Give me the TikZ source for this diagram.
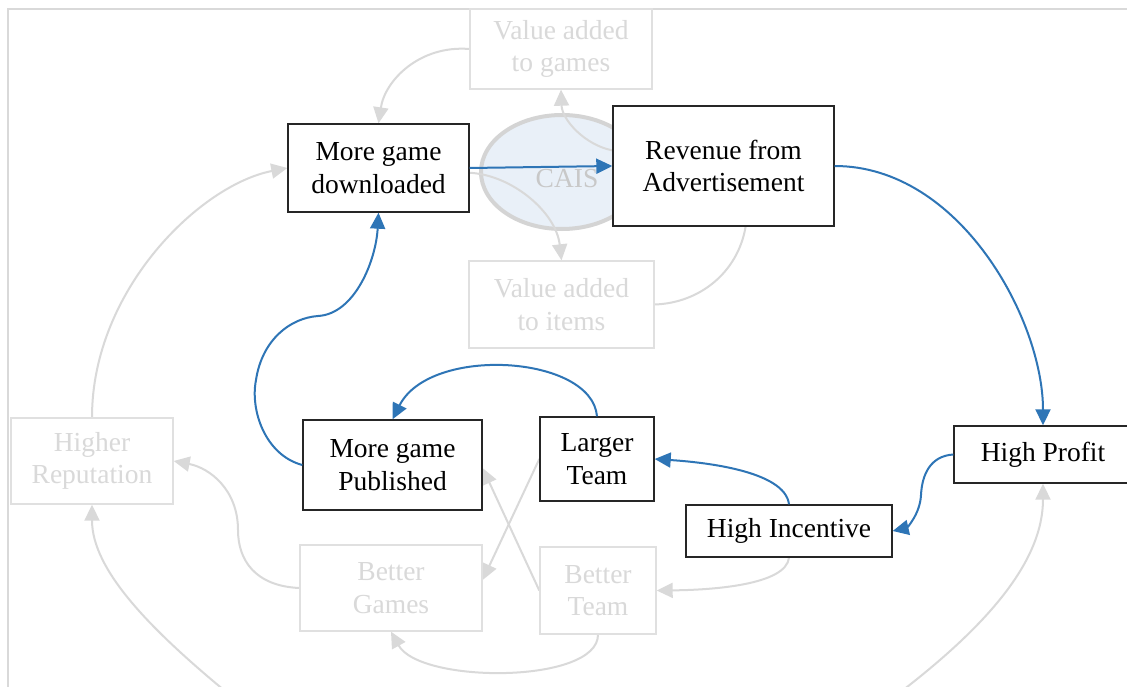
\documentclass[tikz,border=0pt]{standalone}
\usepackage{fontspec}
\setmainfont{Liberation Serif}
\usetikzlibrary{arrows.meta,shapes.geometric,calc}
\definecolor{linkblue}{RGB}{46,117,182}
\definecolor{faint}{RGB}{217,217,217}
\definecolor{faintbox}{RGB}{224,224,224}
\definecolor{faintfill}{RGB}{233,240,248}
\definecolor{caisrim}{RGB}{212,212,212}
\definecolor{caistext}{RGB}{200,200,200}
\pgfdeclarelayer{bottom}
\pgfdeclarelayer{links}
\pgfsetlayers{bottom,links,main}
\tikzset{
  lbl/.style={font=\fontsize{27.5}{32.5}\selectfont, align=center, inner sep=0pt},
  mainbox/.style={lbl, draw=black!85, line width=1.4pt, fill=white, text=black},
  fadedbox/.style={lbl, draw=faintbox, line width=1.4pt, fill=white, text=faint},
  bluelink/.style={draw=linkblue, line width=2pt, -{Triangle[length=16pt,width=15pt]}},
  greylink/.style={draw=faint, line width=2pt, -{Triangle[length=16pt,width=15pt]}},
}
\begin{document}
\begin{tikzpicture}[x=1pt,y=-1pt]
\useasboundingbox (0,0) rectangle (1127,687);
\clip (0,0) rectangle (1127,687);

% faded nodes
\node[fadedbox, minimum width=182pt, minimum height=80pt] (vgames) at (561,49) {Value added\\to games};
\node[fadedbox, minimum width=185pt, minimum height=87pt] (vitems) at (561.5,304.5) {Value added\\to items};
\node[fadedbox, minimum width=162pt, minimum height=86pt] (rep) at (92,461) {Higher\\Reputation};
\node[fadedbox, minimum width=182pt, minimum height=86pt] (bgames) at (391,588) {Better\\Games};
\node[fadedbox, minimum width=116pt, minimum height=87pt] (bteam) at (598,590.5) {Better\\Team};

% main nodes
\node[mainbox, minimum width=181pt, minimum height=88pt] (dl) at (378.5,168) {More game\\downloaded};
\node[mainbox, minimum width=221pt, minimum height=120pt] (rev) at (723.5,166) {Revenue from\\Advertisement};
\node[mainbox, minimum width=179pt, minimum height=90pt] (pub) at (392.5,465) {More game\\Published};
\node[mainbox, minimum width=114pt, minimum height=84pt] (larger) at (597,459) {Larger\\Team};
\node[mainbox, minimum width=178pt, minimum height=57pt] (profit) at (1043,454.5) {High Profit};
\node[mainbox, minimum width=206pt, minimum height=52pt] (incentive) at (789,531) {High Incentive};

\begin{pgfonlayer}{bottom}
  \fill[white] (0,0) rectangle (1127,687);
  % outer frame
  \draw[faint, line width=2pt] (8,690) -- (8,9) -- (1130,9);
  % central ellipse with its caption
  \node[ellipse, draw=caisrim, line width=4pt, fill=faintfill, minimum width=162pt, minimum height=114pt,
        inner sep=0pt, label={[lbl, text=caistext, xshift=5pt, yshift=-7pt]center:CAIS}] (cais) at (562,172) {};
\end{pgfonlayer}

\begin{pgfonlayer}{links}
  \draw[greylink] (vgames.west) .. controls (420,45) and (385,80) .. (dl.north);
  \draw[greylink] (rev.172) .. controls (585,145) and (562,120) .. (vgames.south);
  \draw[greylink] (dl.-3) .. controls (512,175) and (556,212) .. (vitems.north);
  \draw[draw=faint, line width=2pt] (vitems.east) .. controls (700,303) and (738,272) .. (rev.-70);
  \draw[greylink] (rep.north) .. controls (92,290) and (200,185) .. (dl.west);
  \draw[greylink] (bgames.west) .. controls (255,586) and (238,560) .. (238,530)
                   .. controls (238,490) and (210,468) .. (rep.east);
  \draw[greylink] (larger.west) -- (bgames.5);
  \draw[greylink] (bteam.west) -- (pub.-2);
  \draw[greylink] (incentive.south) .. controls (786,585) and (712,590) .. (bteam.east);
  \draw[greylink] (bteam.south) .. controls (598,684) and (420,684) .. (bgames.south);
  \coordinate (lowleft) at (236,700);
  \coordinate (lowright) at (890,700);
  \draw[greylink] (lowleft) .. controls (150,630) and (92,570) .. (rep.south);
  \draw[greylink] (lowright) .. controls (990,625) and (1043,560) .. (profit.south);
\end{pgfonlayer}

% main links
\draw[bluelink] (dl.east) -- (rev.west);
\draw[bluelink] (rev.east) .. controls (960,166) and (1043,320) .. (profit.north);
\draw[bluelink] (profit.west) .. controls (930,456) and (922,475) .. (921,495)
                 .. controls (920,515) and (906,528) .. (incentive.east);
\draw[bluelink] (incentive.north) .. controls (785,470) and (700,462) .. (larger.east);
\draw[bluelink] (larger.north) .. controls (592,355) and (430,345) .. (pub.north);
\draw[bluelink] (pub.west) .. controls (265,455) and (250,410) .. (256,380)
                 .. controls (262,340) and (290,318) .. (318,316)
                 .. controls (355,314) and (376,260) .. (dl.south);
\end{tikzpicture}
\end{document}
